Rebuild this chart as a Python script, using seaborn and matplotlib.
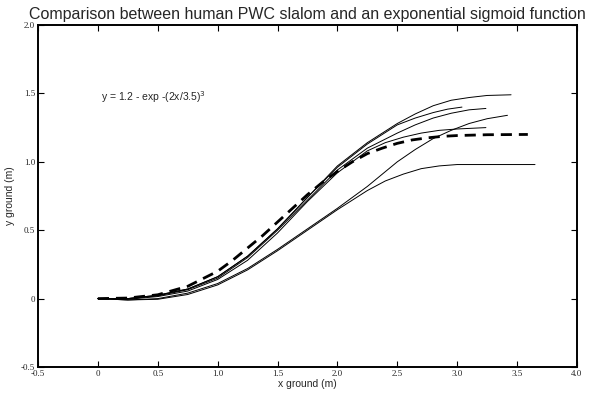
import numpy as np
import pandas as pd
import matplotlib.pyplot as plt
import seaborn as sns

sns.set_theme(style="ticks")
plt.rcParams['font.family'] = ['Liberation Sans', 'DejaVu Sans']

# human slalom trajectories (x ground, y ground in m)
x_a = [0, 0.25, 0.5, 0.75, 1.0, 1.25, 1.5, 1.75, 2.0, 2.25, 2.5, 2.65, 2.8, 2.95, 3.1, 3.25, 3.45]
y_a = [0, 0.0, 0.025, 0.07, 0.16, 0.31, 0.51, 0.74, 0.97, 1.14, 1.28, 1.35, 1.41, 1.45, 1.47, 1.485, 1.49]

x_b = [0, 0.25, 0.5, 0.75, 1.0, 1.25, 1.5, 1.75, 2.0, 2.25, 2.5, 2.65, 2.8, 2.92, 3.04]
y_b = [0, 0.0, 0.025, 0.07, 0.16, 0.31, 0.51, 0.74, 0.96, 1.13, 1.27, 1.32, 1.36, 1.385, 1.40]

x_c = [0, 0.25, 0.5, 0.75, 1.0, 1.25, 1.5, 1.75, 2.0, 2.25, 2.5, 2.65, 2.8, 2.95, 3.1, 3.24]
y_c = [0, 0.0, 0.02, 0.065, 0.15, 0.30, 0.50, 0.72, 0.94, 1.10, 1.21, 1.27, 1.32, 1.355, 1.38, 1.39]

x_d = [0, 0.25, 0.5, 0.75, 1.0, 1.25, 1.5, 1.75, 2.0, 2.25, 2.5, 2.65, 2.8, 2.95, 3.1, 3.25, 3.42]
y_d = [0, -0.01, 0.0, 0.04, 0.11, 0.22, 0.36, 0.51, 0.66, 0.82, 1.0, 1.09, 1.17, 1.23, 1.28, 1.315, 1.34]

x_e = [0, 0.25, 0.5, 0.75, 1.0, 1.25, 1.5, 1.75, 2.0, 2.25, 2.4, 2.55, 2.7, 2.85, 3.0, 3.24]
y_e = [0, -0.005, 0.015, 0.055, 0.14, 0.28, 0.48, 0.71, 0.92, 1.08, 1.14, 1.18, 1.21, 1.23, 1.24, 1.25]

x_f = [0, 0.25, 0.5, 0.75, 1.0, 1.25, 1.5, 1.75, 2.0, 2.25, 2.4, 2.55, 2.7, 2.85, 3.0, 3.3, 3.65]
y_f = [0, -0.01, -0.005, 0.03, 0.10, 0.21, 0.35, 0.50, 0.65, 0.79, 0.86, 0.91, 0.95, 0.97, 0.98, 0.98, 0.98]

# sigmoid (dashed)
x_sig = [0, 0.25, 0.5, 0.75, 1.0, 1.125, 1.25, 1.375, 1.5, 1.625, 1.75, 1.875, 2.0,
         2.125, 2.25, 2.375, 2.5, 2.625, 2.75, 2.875, 3.0, 3.25, 3.59]
y_sig = [0, 0.004, 0.028, 0.09, 0.20, 0.28, 0.37, 0.46, 0.56, 0.66, 0.76, 0.85, 0.93,
         1.0, 1.06, 1.10, 1.135, 1.16, 1.175, 1.186, 1.192, 1.198, 1.2]

xticks = [-0.5, 0, 0.5, 1.0, 1.5, 2.0, 2.5, 3.0, 3.5, 4.0]
xticklabels = ['-0.5', '0', '0.5', '1.0', '1.5', '2.0', '2.5', '3.0', '3.5', '4.0']
yticks = [-0.5, 0, 0.5, 1.0, 1.5, 2.0]
yticklabels = ['-0.5', '0', '0.5', '1.0', '1.5', '2.0']

frames = []
for name, xs, ys in [('A', x_a, y_a), ('B', x_b, y_b), ('C', x_c, y_c),
                     ('D', x_d, y_d), ('E', x_e, y_e), ('F', x_f, y_f)]:
    frames.append(pd.DataFrame({'x': xs, 'y': ys, 'run': name}))
human = pd.concat(frames, ignore_index=True)
sig = pd.DataFrame({'x': x_sig, 'y': y_sig})

fig = plt.figure(figsize=(5.96, 3.99), dpi=100)
ax = fig.add_axes([0.0638, 0.0802, 0.9042, 0.8571])

sns.lineplot(data=human, x='x', y='y', units='run', estimator=None, sort=False,
             color='black', linewidth=0.7, ax=ax)
sns.lineplot(data=sig, x='x', y='y', color='black', linewidth=2.0,
             linestyle=(0, (4, 2.5)), ax=ax)

ax.set_xlim(-0.5, 4.0)
ax.set_ylim(-0.5, 2.0)
ax.set_xticks(xticks)
ax.set_xticklabels(xticklabels, family='Liberation Serif', fontsize=6.5)
ax.set_yticks(yticks)
ax.set_yticklabels(yticklabels, family='Liberation Serif', fontsize=6.5)
ax.tick_params(direction='in', length=4, width=0.8, top=True, right=True, pad=2, color='black')
for s in ax.spines.values():
    s.set_linewidth(1.4)
    s.set_color('black')

ax.set_xlabel('x ground (m)', fontsize=7.5, labelpad=1)
ax.set_ylabel('y ground (m)', fontsize=7.5, labelpad=4)
ax.set_title('Comparison between human PWC slalom and an exponential sigmoid function',
             fontsize=11.5, pad=4)
ax.text(0.03, 1.47, 'y = 1.2 - exp -(2x/3.5)$^3$', fontsize=7.5, va='center')

fig.savefig('out.png', dpi=100)
